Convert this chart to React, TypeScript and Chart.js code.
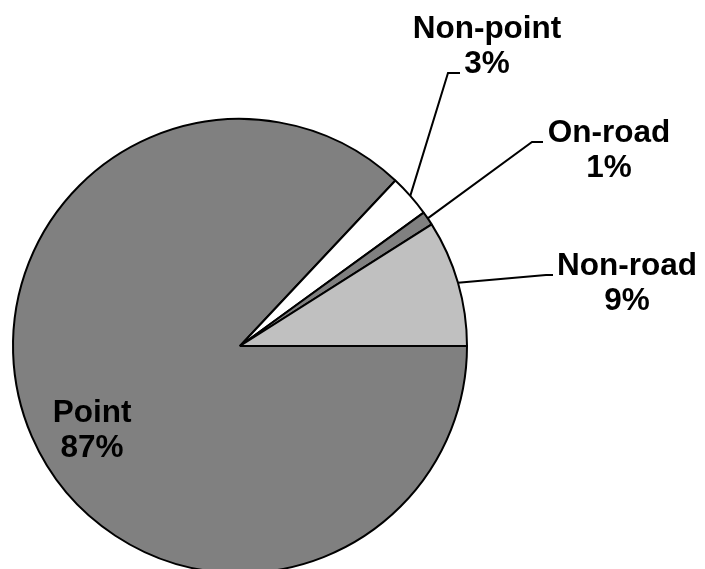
import React, { useEffect, useRef } from "react";
import { Chart, registerables } from "chart.js";

Chart.register(...registerables);

// Emission shares by source category (percent)
const categories = ["Point", "Non-point", "On-road", "Non-road"];
const shares = [87, 3, 1, 9];
const sliceColors = ["#808080", "#ffffff", "#808080", "#c0c0c0"];

// Label placement: centre x, first baseline, and the leader's elbow/end (null = inside label, no leader)
const labelLayout: Array<{ x: number; y: number; leader: null | { elbowX: number; endX: number; y: number } }> = [
  { x: 92, y: 422, leader: null },
  { x: 487, y: 38, leader: { elbowX: 448, endX: 460, y: 73 } },
  { x: 609, y: 142, leader: { elbowX: 532, endX: 543, y: 142 } },
  { x: 627, y: 275, leader: { elbowX: 546, endX: 553, y: 275 } },
];

const labelPlugin = {
  id: "sliceLabels",
  afterDraw(chart: any) {
    const ctx = chart.ctx as CanvasRenderingContext2D;
    const meta = chart.getDatasetMeta(0);
    ctx.save();
    ctx.font = "bold 31.5px 'Liberation Sans', Arial, sans-serif";
    ctx.fillStyle = "#000";
    ctx.textAlign = "center";
    ctx.textBaseline = "alphabetic";
    ctx.strokeStyle = "#000";
    ctx.lineWidth = 2;
    meta.data.forEach((arc: any, i: number) => {
      const p = arc.getProps(["x", "y", "startAngle", "endAngle", "outerRadius"], true);
      const mid = (p.startAngle + p.endAngle) / 2;
      const layout = labelLayout[i];
      if (layout.leader) {
        const sx = p.x + Math.cos(mid) * p.outerRadius;
        const sy = p.y + Math.sin(mid) * p.outerRadius;
        ctx.beginPath();
        ctx.moveTo(sx, sy);
        ctx.lineTo(layout.leader.elbowX, layout.leader.y);
        ctx.lineTo(layout.leader.endX, layout.leader.y);
        ctx.stroke();
      }
      ctx.fillText(categories[i], layout.x, layout.y);
      ctx.fillText(`${shares[i]}%`, layout.x, layout.y + 35);
    });
    ctx.restore();
  },
};

export default function App() {
  const canvasRef = useRef<HTMLCanvasElement | null>(null);

  useEffect(() => {
    if (!canvasRef.current) return;
    const chart = new Chart(canvasRef.current, {
      type: "pie",
      data: {
        labels: categories,
        datasets: [
          {
            data: shares,
            backgroundColor: sliceColors,
            borderColor: "#000000",
            borderWidth: 2,
            hoverBorderWidth: 2,
            radius: 227,
          },
        ],
      },
      options: {
        animation: false,
        responsive: false,
        rotation: 90,
        events: [],
        layout: { padding: { left: 13, right: 238, top: 120, bottom: 28 } },
        plugins: {
          legend: { display: false },
          tooltip: { enabled: false },
        },
      },
      plugins: [labelPlugin],
    });
    return () => chart.destroy();
  }, []);

  return (
    <div style={{ position: "fixed", left: 0, top: 0, width: 705, height: 600, background: "#ffffff" }}>
      <canvas ref={canvasRef} width={705} height={600} style={{ width: 705, height: 600, display: "block" }} />
    </div>
  );
}
